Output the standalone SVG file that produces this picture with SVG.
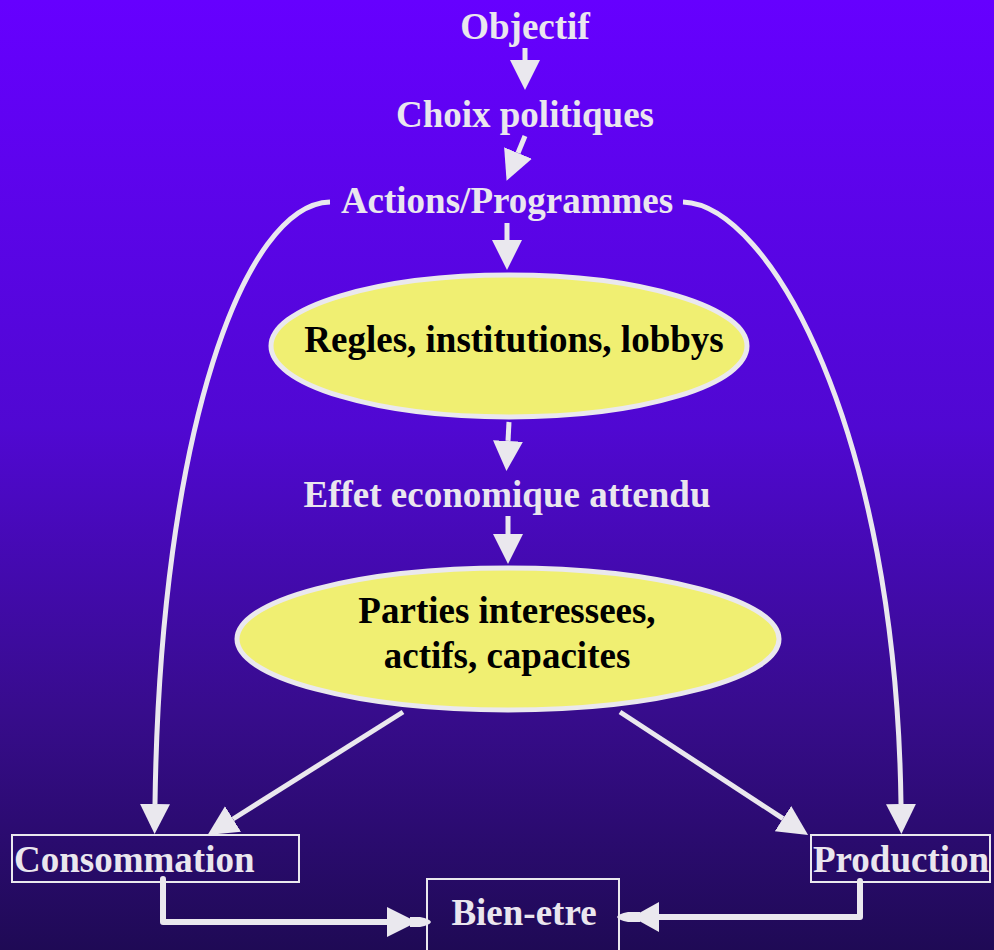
<svg xmlns="http://www.w3.org/2000/svg" width="994" height="950" viewBox="0 0 994 950">
<defs>
<linearGradient id="bg" x1="0" y1="0" x2="0" y2="1">
<stop offset="0" stop-color="#6600FF"/>
<stop offset="0.45" stop-color="#5008D2"/>
<stop offset="0.75" stop-color="#370C8C"/>
<stop offset="1" stop-color="#1F0A55"/>
</linearGradient>
<marker id="ah" markerUnits="userSpaceOnUse" markerWidth="32" markerHeight="32" refX="0" refY="15" orient="auto" viewBox="0 0 32 32">
<path d="M0,0 L30,15 L0,30 Z" fill="#EAE8EE"/>
</marker>
<style>
.t{font-family:"Liberation Serif","Times New Roman",serif;font-weight:bold;font-size:37px;fill:#EAE6EE}
.tb{font-family:"Liberation Serif","Times New Roman",serif;font-weight:bold;font-size:37px;fill:#000}
.ln{fill:none;stroke:#EAE8EE;stroke-width:5}
.lnb{fill:none;stroke:#EAE8EE;stroke-width:6;stroke-linejoin:round;stroke-linecap:round}
.hd{fill:#EAE8EE}
.el{fill:#F0EF72;stroke:#EAE8EE;stroke-width:5}
.bx{fill:none;stroke:#EAE8EE;stroke-width:2}
</style>
</defs>
<rect x="0" y="0" width="994" height="950" fill="url(#bg)"/>
<g id="connectors">
<path class="ln" d="M525,48 V60" marker-end="url(#ah)"/>
<path class="ln" d="M525,136 L518,153" marker-end="url(#ah)"/>
<path class="ln" d="M507,223 V240" marker-end="url(#ah)"/>
<path class="ln" d="M509,422 L508,441" marker-end="url(#ah)"/>
<path class="ln" d="M508,516 V534" marker-end="url(#ah)"/>
<path class="ln" d="M330,202 C245,204 160,430 155,804" marker-end="url(#ah)"/>
<path class="ln" d="M683,202 C770,205 896,430 901,804" marker-end="url(#ah)"/>
<path class="ln" d="M403,712 L233,819" marker-end="url(#ah)"/>
<path class="ln" d="M620,712 L783,818.6" marker-end="url(#ah)"/>
<path class="lnb" d="M163,879 V922 H390"/>
<path class="hd" d="M387,907 L417,922 L387,937 Z"/>
<path class="hd" d="M410,917 L420,917 Q430,919 431,922 Q430,925 420,927 L410,927 Z"/>
<path class="lnb" d="M860,881 V917 H656"/>
<path class="hd" d="M659,902 L632,917 L659,932 Z"/>
<path class="hd" d="M640,912 L628,912 Q618,914 617,917 Q618,920 628,922 L640,922 Z"/>
</g>
<g id="objectif"><text class="t" x="525" y="39" text-anchor="middle">Objectif</text></g>
<g id="choix"><text class="t" x="525" y="127" text-anchor="middle">Choix politiques</text></g>
<g id="actions"><text class="t" x="507" y="213" text-anchor="middle">Actions/Programmes</text></g>
<g id="regles">
<ellipse class="el" cx="509" cy="346" rx="238" ry="71"/>
<text class="tb" x="514" y="352" text-anchor="middle">Regles, institutions, lobbys</text>
</g>
<g id="effet"><text class="t" x="507" y="507" text-anchor="middle">Effet economique attendu</text></g>
<g id="parties">
<ellipse class="el" cx="508" cy="639" rx="271" ry="71"/>
<text class="tb" x="507" y="623" text-anchor="middle">Parties interessees,</text>
<text class="tb" x="507" y="668" text-anchor="middle">actifs, capacites</text>
</g>
<g id="consommation">
<rect class="bx" x="12" y="835" width="287" height="47"/>
<text class="t" x="14" y="872">Consommation</text>
</g>
<g id="production">
<rect class="bx" x="811" y="835" width="179" height="47"/>
<text class="t" x="813" y="872">Production</text>
</g>
<g id="bienetre">
<rect class="bx" x="427" y="879" width="192" height="80"/>
<text class="t" x="524" y="925" text-anchor="middle">Bien-etre</text>
</g>
</svg>
